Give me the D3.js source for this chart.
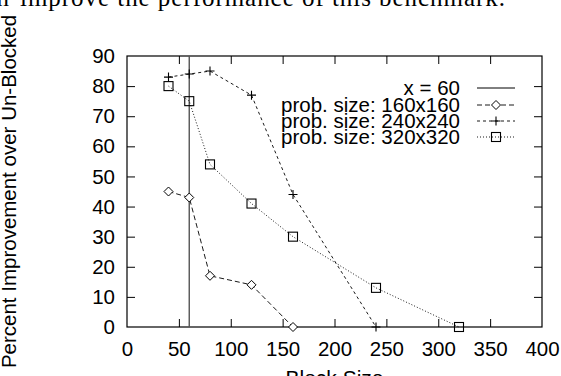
<!DOCTYPE html>
<html>
<head>
<meta charset="utf-8">
<script src="https://cdn.jsdelivr.net/npm/d3@7"></script>
<style>
  html, body { margin: 0; padding: 0; background: #fff; }
  svg { display: block; }
  text { font-family: "Liberation Sans", Arial, sans-serif; fill: #000; }
</style>
</head>
<body>
<script>
// Block size vs. percent improvement for three problem sizes
const xTicks = [0, 50, 100, 150, 200, 250, 300, 350, 400];
const yTicks = [0, 10, 20, 30, 40, 50, 60, 70, 80, 90];

const size160Blocks = [40, 60, 80, 120, 160];
const size160Values = [45, 43, 17, 14, 0];

const size240Blocks = [40, 60, 80, 120, 160, 240];
const size240Values = [83, 84, 85, 77, 44, 0];

const size320Blocks = [40, 60, 80, 120, 160, 240, 320];
const size320Values = [80, 75, 54, 41, 30, 13, 0];

const refLineX = 60;
const legendLabels = ["x = 60", "prob. size: 160x160", "prob. size: 240x240", "prob. size: 320x320"];

const W = 561, H = 376;
const plotLeft = 127, plotRight = 542, plotTop = 56, plotBottom = 327;

const svg = d3.select("body").append("svg").attr("width", W).attr("height", H);

const x = d3.scaleLinear().domain([0, 400]).range([plotLeft, plotRight]);
const y = d3.scaleLinear().domain([0, 90]).range([plotBottom, plotTop]);

// surrounding sentence from the document text
svg.append("text").attr("x", 9).attr("y", 6).attr("text-anchor", "end")
  .style("font-family", "'Liberation Serif', 'DejaVu Serif', serif").style("font-size", "25px")
  .text("can");
svg.append("text").attr("x", 20).attr("y", 6)
  .attr("textLength", 485).attr("lengthAdjust", "spacing")
  .style("font-family", "'Liberation Serif', 'DejaVu Serif', serif").style("font-size", "25px")
  .text("improve the performance of this benchmark.");

const tickLen = 8;
const labelSize = "20.5px";
// axes with inward ticks, mirrored on the opposite sides
const gx = svg.append("g").attr("transform", `translate(0,${plotBottom})`)
  .call(d3.axisBottom(x).tickValues(xTicks).tickSizeInner(-tickLen).tickSizeOuter(0).tickPadding(14));
const gxTop = svg.append("g").attr("transform", `translate(0,${plotTop})`)
  .call(d3.axisTop(x).tickValues(xTicks).tickSizeInner(-tickLen).tickSizeOuter(0).tickFormat(""));
const gy = svg.append("g").attr("transform", `translate(${plotLeft},0)`)
  .call(d3.axisLeft(y).tickValues(yTicks).tickSizeInner(-tickLen).tickSizeOuter(0).tickPadding(12));
const gyRight = svg.append("g").attr("transform", `translate(${plotRight},0)`)
  .call(d3.axisRight(y).tickValues(yTicks).tickSizeInner(-tickLen).tickSizeOuter(0).tickFormat(""));

[gx, gxTop, gy, gyRight].forEach(g => {
  g.select(".domain").remove();
  g.selectAll(".tick line").attr("stroke", "#000").attr("stroke-width", 1);
  g.selectAll("text").style("font-size", labelSize).attr("fill", "#000");
});
gx.selectAll("text").attr("dy", "0.71em");
// no end ticks on the frame corners
gx.selectAll(".tick").filter(d => d === 0 || d === 400).select("line").remove();
gxTop.selectAll(".tick").filter(d => d === 0 || d === 400).select("line").remove();
gy.selectAll(".tick").filter(d => d === 0 || d === 90).select("line").remove();
gyRight.selectAll(".tick").filter(d => d === 0 || d === 90).select("line").remove();

// plot frame
svg.append("rect").attr("x", plotLeft).attr("y", plotTop)
  .attr("width", plotRight - plotLeft).attr("height", plotBottom - plotTop)
  .attr("fill", "none").attr("stroke", "#000").attr("stroke-width", 1.2);

// axis titles
svg.append("text").attr("x", (plotLeft + plotRight) / 2).attr("y", 385)
  .attr("text-anchor", "middle").style("font-size", "21px").text("Block Size");
svg.append("text")
  .attr("transform", `translate(16,${(plotTop + plotBottom) / 2}) rotate(-90)`)
  .attr("text-anchor", "middle").style("font-size", "20.5px")
  .text("Percent Improvement over Un-Blocked");

// reference line x = 60
svg.append("line").attr("x1", x(refLineX)).attr("x2", x(refLineX))
  .attr("y1", y(0)).attr("y2", y(90)).attr("stroke", "#555").attr("stroke-width", 1.4);

const series = [
  { xs: size160Blocks, ys: size160Values, dash: "5,3", marker: "diamond" },
  { xs: size240Blocks, ys: size240Values, dash: "3,3", marker: "plus" },
  { xs: size320Blocks, ys: size320Values, dash: "1,2", marker: "square" }
];

const line = d3.line().x(d => x(d[0])).y(d => y(d[1]));

function drawMarker(g, type, cx, cy) {
  if (type === "diamond") {
    g.append("path").attr("d", `M${cx},${cy - 4.5}L${cx + 4.5},${cy}L${cx},${cy + 4.5}L${cx - 4.5},${cy}Z`)
      .attr("fill", "#fff").attr("stroke", "#000").attr("stroke-width", 1);
  } else if (type === "plus") {
    g.append("path").attr("d", `M${cx - 4.5},${cy}H${cx + 4.5}M${cx},${cy - 4.5}V${cy + 4.5}`)
      .attr("stroke", "#000").attr("stroke-width", 1.1);
  } else {
    g.append("rect").attr("x", cx - 4.5).attr("y", cy - 4.5).attr("width", 9).attr("height", 9)
      .attr("fill", "none").attr("stroke", "#000").attr("stroke-width", 1.1);
  }
}

series.forEach(s => {
  const pts = s.xs.map((v, i) => [v, s.ys[i]]);
  svg.append("path").datum(pts).attr("d", line)
    .attr("fill", "none").attr("stroke", "#000").attr("stroke-width", 0.9)
    .attr("stroke-dasharray", s.dash);
  const g = svg.append("g");
  pts.forEach(p => drawMarker(g, s.marker, x(p[0]), y(p[1])));
});

// legend
const legendX = 460, sampleX1 = 477, sampleX2 = 515;
const legendRowY = [88, 105, 121, 137];
const legendStyles = [
  { dash: null, marker: null, color: "#000", width: 1 },
  { dash: "5,3", marker: "diamond", color: "#000", width: 0.9 },
  { dash: "3,3", marker: "plus", color: "#000", width: 0.9 },
  { dash: "1,2", marker: "square", color: "#000", width: 0.9 }
];
legendLabels.forEach((label, i) => {
  const cy = legendRowY[i];
  svg.append("text").attr("x", legendX).attr("y", cy).attr("dy", "0.36em")
    .attr("text-anchor", "end").style("font-size", labelSize).text(label);
  const st = legendStyles[i];
  svg.append("line").attr("x1", sampleX1).attr("x2", sampleX2).attr("y1", cy).attr("y2", cy)
    .attr("stroke", st.color).attr("stroke-width", st.width)
    .attr("stroke-dasharray", st.dash);
  if (st.marker) drawMarker(svg, st.marker, (sampleX1 + sampleX2) / 2, cy);
});
</script>
</body>
</html>
